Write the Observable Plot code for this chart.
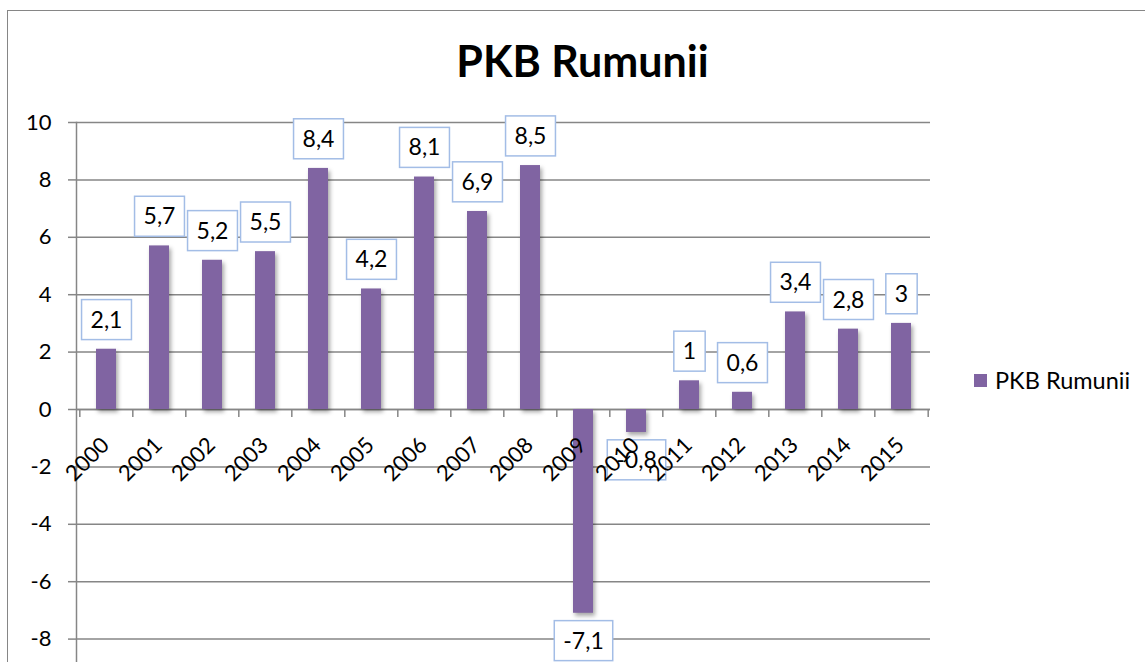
<!DOCTYPE html>
<html>
<head>
<meta charset="utf-8">
<script src="https://cdn.jsdelivr.net/npm/d3@7"></script>
<script src="https://cdn.jsdelivr.net/npm/@observablehq/plot@0.6"></script>
<style>
  html, body { margin: 0; padding: 0; background: #fff; overflow: hidden; }
  #wrap { position: relative; width: 1145px; height: 662px; overflow: hidden; font-family: Lato, "DejaVu Sans", sans-serif; }
  #border { position: absolute; left: 7px; top: 10px; width: 1300px; height: 900px; border: 1.5px solid #868686; box-sizing: border-box; }
  #chart { position: absolute; left: 0; top: 0; }
  #title { position: absolute; left: 0; width: 1165px; top: 39px; text-align: center; font-weight: 700; font-size: 43px; line-height: 1; color: #000; }
  #legend { position: absolute; left: 974px; top: 369px; font-size: 23.5px; line-height: 1; color: #000; display: flex; align-items: center; }
  #legend .sw { width: 13px; height: 13px; background: #8064a2; margin-right: 8px; }
</style>
</head>
<body>
<div id="wrap">
  <div id="border"></div>
  <div id="chart"></div>
  <div id="title">PKB Rumunii</div>
  <div id="legend"><span class="sw"></span><span>PKB Rumunii</span></div>
</div>
<script>
const years = ["2000","2001","2002","2003","2004","2005","2006","2007","2008","2009","2010","2011","2012","2013","2014","2015"];
const values = [2.1, 5.7, 5.2, 5.5, 8.4, 4.2, 8.1, 6.9, 8.5, -7.1, -0.8, 1, 0.6, 3.4, 2.8, 3];
const gridTicks = [-10, -8, -6, -4, -2, 0, 2, 4, 6, 8, 10];
const tickLabels = [-8, -6, -4, -2, 0, 2, 4, 6, 8, 10];

const data = years.map((year, i) => ({year, value: values[i]}));
const fmt = v => String(v).replace(".", ",");

const W = 1145, ML = 76, MR = 215;
const step = (W - ML - MR) / years.length;
const grey = "#868686";

const chart = Plot.plot({
  width: W,
  height: 706,
  marginLeft: ML,
  marginRight: MR,
  marginTop: 122,
  marginBottom: 10,
  style: {fontFamily: "Lato, 'DejaVu Sans', sans-serif", fontSize: "21px", color: "#000", background: "transparent"},
  x: {domain: years, paddingInner: 0.625, paddingOuter: 0.3125, axis: null},
  y: {domain: [-10, 10], axis: null},
  marks: [
    Plot.gridY(gridTicks, {stroke: grey, strokeOpacity: 1, strokeWidth: 1.5}),
    Plot.frame({anchor: "left", stroke: grey, strokeWidth: 1.5}),
    Plot.axisY(tickLabels, {label: null, tickSize: 8, tickPadding: 17, tickFormat: d => String(d), stroke: grey, strokeWidth: 1.5, fill: "#000", fontSize: 22}),
    Plot.ruleY([0], {stroke: grey, strokeWidth: 1.5}),
    Plot.ruleX(years, {x: d => d, dx: -step / 2, y1: () => 0, y2: () => -0.28, stroke: grey, strokeWidth: 1.5}),
    Plot.ruleX(years.slice(-1), {x: d => d, dx: step / 2, y1: () => 0, y2: () => -0.28, stroke: grey, strokeWidth: 1.5}),
    Plot.barY(data, {x: "year", y: "value", fill: "#8064a2"}),
    Plot.text(data.filter(d => d.value >= 0), {x: "year", y: "value", text: d => fmt(d.value), dy: -29, fontSize: 23, fill: "#000"}),
    Plot.text(data.filter(d => d.value < 0), {x: "year", y: "value", text: d => fmt(d.value), dy: 28, fontSize: 23, fill: "#000"}),
    Plot.text(data, {x: "year", y: () => 0, text: "year", rotate: -45, textAnchor: "end", lineAnchor: "bottom", dx: 4, dy: 37, fontSize: 22, fill: "#000"})
  ]
});

document.getElementById("chart").appendChild(chart);

// drop shadow on bars
const barG = chart.querySelector('g[aria-label="bar"]');
if (barG) barG.style.filter = "drop-shadow(2px 3px 2px rgba(0,0,0,0.35))";

// boxes around data labels
const textGroups = chart.querySelectorAll('g[aria-label="text"]');
[textGroups[0], textGroups[1]].forEach(g => {
  if (!g) return;
  g.querySelectorAll("text").forEach(t => {
    const bb = t.getBBox();
    const w = bb.width + 18;
    const cy = bb.y + bb.height / 2 + 1;
    const r = document.createElementNS("http://www.w3.org/2000/svg", "rect");
    r.setAttribute("x", bb.x + bb.width / 2 - w / 2);
    r.setAttribute("y", cy - 20);
    r.setAttribute("width", w);
    r.setAttribute("height", 40);
    r.setAttribute("fill", "#fff");
    r.setAttribute("stroke", "#a3bde6");
    r.setAttribute("stroke-width", 1.5);
    const tr = t.getAttribute("transform");
    if (tr) r.setAttribute("transform", tr);
    g.insertBefore(r, t);
  });
});
</script>
</body>
</html>
